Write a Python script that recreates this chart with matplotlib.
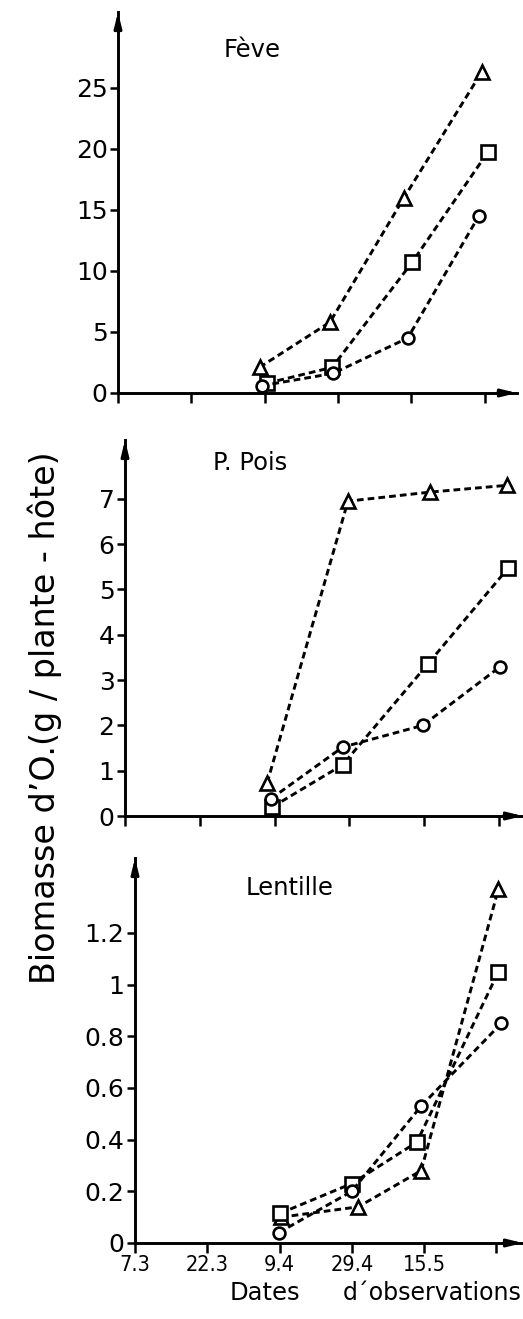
import numpy as np
import matplotlib.pyplot as plt

# observation dates (equally spaced ticks on the x axis)
date_labels = ['7.3', '22.3', '9.4', '29.4', '15.5', '']

# Feve
feve_tri_x = [1.93, 2.89, 3.90, 4.96]
feve_tri_y = [2.1, 5.8, 16.0, 26.3]
feve_sq_x = [2.03, 2.92, 4.01, 5.04]
feve_sq_y = [0.8, 2.1, 10.7, 19.7]
feve_ci_x = [1.96, 2.93, 3.95, 4.92]
feve_ci_y = [0.6, 1.6, 4.5, 14.5]

# Petit pois
pois_tri_x = [1.90, 2.98, 4.08, 5.11]
pois_tri_y = [0.73, 6.95, 7.15, 7.3]
pois_sq_x = [1.97, 2.91, 4.05, 5.12]
pois_sq_y = [0.2, 1.13, 3.36, 5.47]
pois_ci_x = [1.95, 2.91, 3.98, 5.01]
pois_ci_y = [0.38, 1.52, 2.0, 3.29]

# Lentille
lent_tri_x = [2.02, 3.09, 3.96, 5.03]
lent_tri_y = [0.1, 0.14, 0.28, 1.37]
lent_sq_x = [2.01, 3.0, 3.9, 5.03]
lent_sq_y = [0.115, 0.23, 0.39, 1.05]
lent_ci_x = [1.99, 3.0, 3.96, 5.07]
lent_ci_y = [0.04, 0.2, 0.53, 0.85]

W, H = 523, 1319
fig = plt.figure(figsize=(W / 100, H / 100), dpi=100)
plt.rcParams['font.family'] = ['DejaVu Sans']


def make_axes(left, right, bottom, top):
    # pixel box (image coords, y down) -> figure fraction
    return fig.add_axes([left / W, (H - bottom) / H, (right - left) / W, (bottom - top) / H])


def draw_panel(ax, series, xmax, ymax, yticks, yticklabels, title, title_xy, xlabels=None):
    for xs, ys, mk, ms in series:
        ax.plot(xs, ys, color='black', lw=2.1, linestyle=(0, (2.3, 1.4)),
                marker=mk, ms=ms, mfc='white', mec='black', mew=1.9, clip_on=False, zorder=3)
    ax.set_xlim(0, xmax)
    ax.set_ylim(0, ymax)
    for s in ['top', 'right']:
        ax.spines[s].set_visible(False)
    for s in ['left', 'bottom']:
        ax.spines[s].set_linewidth(2.1)
    ax.set_yticks(yticks)
    ax.set_yticklabels(yticklabels)
    ax.set_xticks(range(6))
    if xlabels is None:
        ax.set_xticklabels([])
    else:
        ax.set_xticklabels(xlabels, fontsize=15.5, fontstretch='condensed')
    ax.tick_params(axis='y', direction='out', length=6, width=1.8, pad=1.5, labelsize=18)
    ax.tick_params(axis='x', direction='out', length=7, width=1.8, pad=1.5)
    # arrow heads on both axes
    ax.annotate('', xy=(1, 0), xytext=(0.95, 0), xycoords='axes fraction',
                arrowprops=dict(arrowstyle='-|>,head_length=0.9,head_width=0.22', color='black',
                                lw=2.1, shrinkA=0, shrinkB=0), annotation_clip=False)
    ax.annotate('', xy=(0, 1), xytext=(0, 0.95), xycoords='axes fraction',
                arrowprops=dict(arrowstyle='-|>,head_length=0.9,head_width=0.22', color='black',
                                lw=2.1, shrinkA=0, shrinkB=0), annotation_clip=False)
    fig.text(title_xy[0] / W, 1 - title_xy[1] / H, title, fontsize=17.5, ha='center', va='center')


ax1 = make_axes(118, 517, 393, 12)
draw_panel(ax1, [(feve_tri_x, feve_tri_y, '^', 10), (feve_sq_x, feve_sq_y, 's', 9.5),
                 (feve_ci_x, feve_ci_y, 'o', 8.5)],
           5.44, 31.2, [0, 5, 10, 15, 20, 25], ['0', '5', '10', '15', '20', '25'],
           'Fève', (252, 50))

ax2 = make_axes(125, 523, 816, 440)
draw_panel(ax2, [(pois_tri_x, pois_tri_y, '^', 10), (pois_sq_x, pois_sq_y, 's', 9.5),
                 (pois_ci_x, pois_ci_y, 'o', 8.5)],
           5.32, 8.3, list(range(8)), [str(v) for v in range(8)],
           'P. Pois', (250, 463))

ax3 = make_axes(135, 523, 1243, 858)
draw_panel(ax3, [(lent_tri_x, lent_tri_y, '^', 10), (lent_sq_x, lent_sq_y, 's', 9.5),
                 (lent_ci_x, lent_ci_y, 'o', 8.5)],
           5.37, 1.49, [0, 0.2, 0.4, 0.6, 0.8, 1.0, 1.2], ['0', '0.2', '0.4', '0.6', '0.8', '1', '1.2'],
           'Lentille', (290, 888), xlabels=date_labels)

fig.text(45 / W, 1 - 718 / H, 'Biomasse d\u2019O.(g / plante - hôte)', rotation=90,
         fontsize=24, ha='center', va='center')
fig.text(265 / W, 1 - 1293 / H, 'Dates', fontsize=17.5, ha='center', va='center')
fig.text(343 / W, 1 - 1293 / H, 'd\u00b4observations', fontsize=17, ha='left', va='center')

fig.savefig('out.png', dpi=100)
